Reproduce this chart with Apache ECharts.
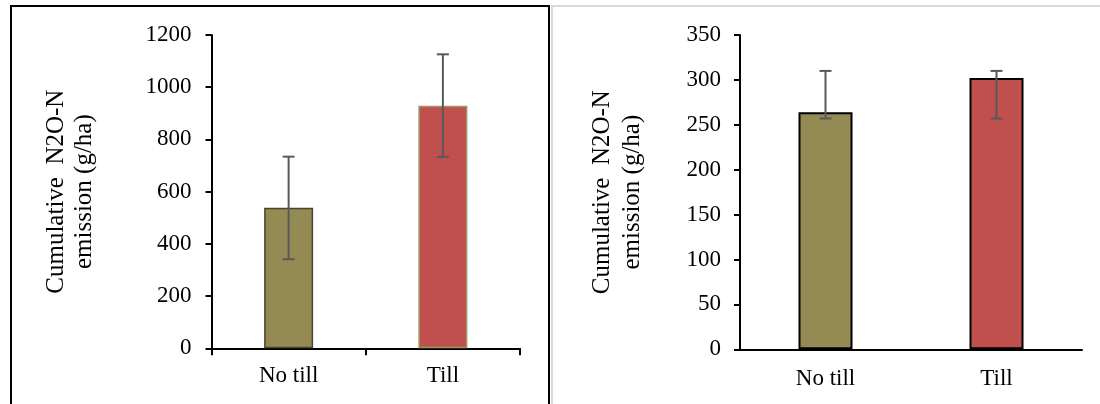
<!DOCTYPE html>
<html>
<head>
<meta charset="utf-8">
<script src="https://cdn.jsdelivr.net/npm/echarts@6/dist/echarts.min.js"></script>
<style>
html,body{margin:0;padding:0;background:#fff;}
#chart{width:1100px;height:404px;}
</style>
</head>
<body>
<div id="chart"></div>
<script>
// ---- data ----
const categories = ['No till', 'Till'];
// Left panel
const leftValues = [538, 929];
const leftErrLow = [341, 733];
const leftErrHigh = [734, 1126];
const leftTicks = { min: 0, max: 1200, interval: 200 };
// Right panel
const rightValues = [264, 302];
const rightErrLow = [257, 257];
const rightErrHigh = [310, 310];
const rightTicks = { min: 0, max: 350, interval: 50 };
const yTitle = 'Cumulative  N2O-N\nemission (g/ha)';
const barColors = ['#948A54', '#C0504D'];

const FONT = '"Liberation Serif", "Times New Roman", serif';

function errData(lo, hi) {
  return categories.map((c, i) => [i, lo[i], hi[i]]);
}
function errRender(params, api) {
  const x = api.value(0);
  const lo = api.coord([x, api.value(1)]);
  const hi = api.coord([x, api.value(2)]);
  const cap = 6;
  const style = { stroke: '#595959', lineWidth: 2 };
  return {
    type: 'group',
    children: [
      { type: 'line', shape: { x1: lo[0], y1: lo[1], x2: hi[0], y2: hi[1] }, style },
      { type: 'line', shape: { x1: lo[0] - cap, y1: lo[1], x2: lo[0] + cap, y2: lo[1] }, style },
      { type: 'line', shape: { x1: hi[0] - cap, y1: hi[1], x2: hi[0] + cap, y2: hi[1] }, style }
    ]
  };
}

const chart = echarts.init(document.getElementById('chart'), null, { renderer: 'canvas' });

const axisLabel = { color: '#000', fontFamily: FONT, fontSize: 23 };
const plainNum = v => String(v);

chart.setOption({
  animation: false,
  backgroundColor: '#fff',
  graphic: [
    { type: 'rect', shape: { x: 11, y: 6, width: 538, height: 420 }, style: { fill: 'none', stroke: '#000', lineWidth: 2 }, z: 100 },
    { type: 'rect', shape: { x: 552, y: 6, width: 600, height: 420 }, style: { fill: 'none', stroke: '#D9D9D9', lineWidth: 2 }, z: 100 }
  ],
  grid: [
    { left: 211.5, top: 35, width: 308.5, height: 313.3 },
    { left: 740, top: 35, width: 342, height: 314.3 }
  ],
  xAxis: [
    {
      gridIndex: 0, type: 'category', data: categories,
      axisLine: { lineStyle: { color: '#000', width: 2 } },
      axisTick: { show: true, length: 7, lineStyle: { color: '#000', width: 2 } },
      axisLabel: Object.assign({ margin: 16 }, axisLabel)
    },
    {
      gridIndex: 1, type: 'category', data: categories,
      axisLine: { lineStyle: { color: '#000', width: 2 } },
      axisTick: { show: false },
      axisLabel: Object.assign({ margin: 18 }, axisLabel)
    }
  ],
  yAxis: [
    {
      gridIndex: 0, type: 'value', min: leftTicks.min, max: leftTicks.max, interval: leftTicks.interval,
      name: yTitle, nameLocation: 'middle', nameRotate: 90, nameGap: 113,
      nameTextStyle: { color: '#000', fontFamily: FONT, fontSize: 25, lineHeight: 28 },
      axisLine: { show: true, lineStyle: { color: '#000', width: 2 } },
      axisTick: { show: true, length: 6, lineStyle: { color: '#000', width: 2 } },
      splitLine: { show: false },
      axisLabel: Object.assign({ margin: 20, formatter: plainNum }, axisLabel)
    },
    {
      gridIndex: 1, type: 'value', min: rightTicks.min, max: rightTicks.max, interval: rightTicks.interval,
      name: yTitle, nameLocation: 'middle', nameRotate: 90, nameGap: 93,
      nameTextStyle: { color: '#000', fontFamily: FONT, fontSize: 25, lineHeight: 30 },
      axisLine: { show: true, lineStyle: { color: '#000', width: 2 } },
      axisTick: { show: true, length: 6, lineStyle: { color: '#000', width: 2 } },
      splitLine: { show: false },
      axisLabel: Object.assign({ margin: 19, formatter: plainNum }, axisLabel)
    }
  ],
  series: [
    {
      type: 'bar', xAxisIndex: 0, yAxisIndex: 0, barWidth: 49,
      data: leftValues.map((v, i) => ({
        value: v,
        itemStyle: { color: barColors[i], borderColor: i === 0 ? '#4A4528' : '#9C9462', borderWidth: 1.5 }
      }))
    },
    {
      type: 'custom', xAxisIndex: 0, yAxisIndex: 0, renderItem: errRender,
      data: errData(leftErrLow, leftErrHigh), z: 10
    },
    {
      type: 'bar', xAxisIndex: 1, yAxisIndex: 1, barWidth: 54,
      data: rightValues.map((v, i) => ({
        value: v,
        itemStyle: { color: barColors[i], borderColor: '#000', borderWidth: 2 }
      }))
    },
    {
      type: 'custom', xAxisIndex: 1, yAxisIndex: 1, renderItem: errRender,
      data: errData(rightErrLow, rightErrHigh), z: 10
    }
  ]
});
</script>
</body>
</html>
